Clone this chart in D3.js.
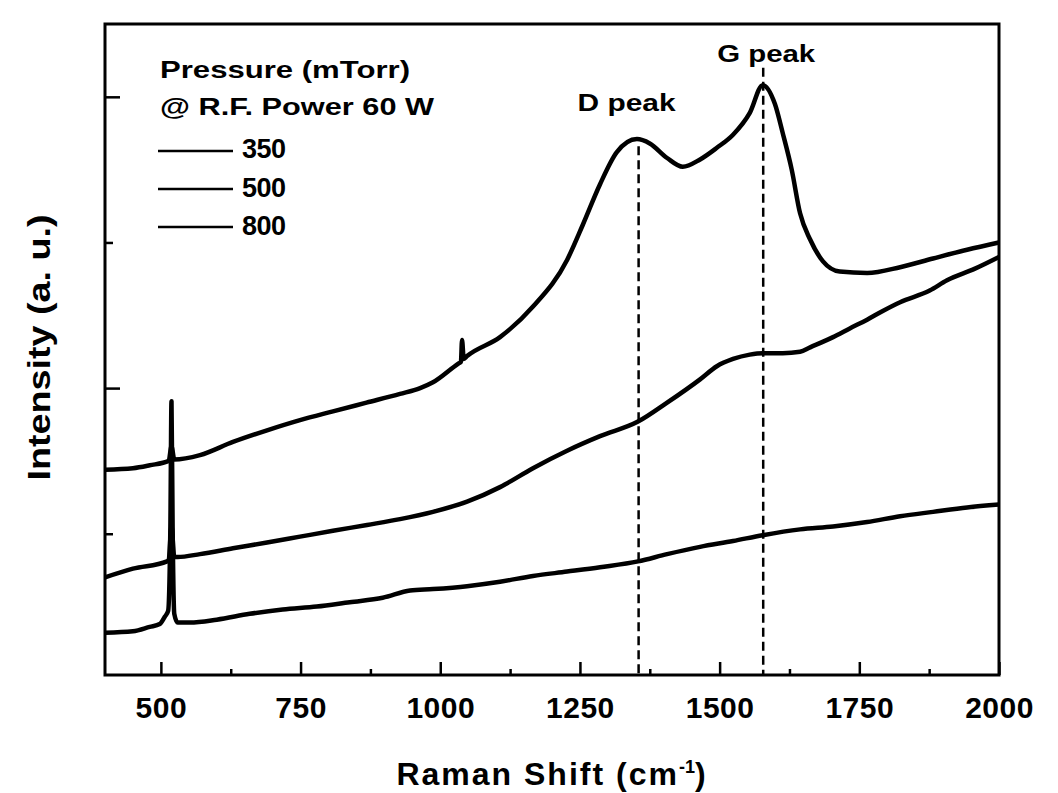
<!DOCTYPE html>
<html>
<head>
<meta charset="utf-8">
<script src="https://cdnjs.cloudflare.com/ajax/libs/d3/7.8.5/d3.min.js"></script>
<style>
body { margin: 0; background: #fff; }
svg text { font-family: "Liberation Sans", Arial, sans-serif; font-weight: bold; fill: #000; }
</style>
</head>
<body>
<svg id="chart" width="1058" height="793"></svg>
<script>
/* spectra: Raman shift (cm-1) / intensity (a.u.) */
var topShift = [400, 450, 480, 514, 519, 524, 570, 629, 690, 749, 808, 868, 928, 964, 987, 1033, 1037, 1039, 1042, 1048,
                1107, 1166, 1227, 1255, 1286, 1316, 1352, 1375, 1406, 1434, 1465, 1495, 1524, 1554, 1577, 1599,
                1613, 1629, 1644, 1662, 1685, 1715, 1764, 1823, 1882, 1943, 2000];
var topInt   = [1.44, 1.45, 1.47, 1.50, 1.60, 1.51, 1.54, 1.63, 1.71, 1.78, 1.84, 1.90, 1.96, 2.00, 2.04, 2.17, 2.18, 2.33, 2.20, 2.22,
                2.35, 2.56, 2.88, 3.12, 3.40, 3.62, 3.71, 3.68, 3.58, 3.52, 3.57, 3.65, 3.74, 3.89, 4.08, 3.95,
                3.75, 3.50, 3.20, 3.02, 2.87, 2.80, 2.79, 2.83, 2.89, 2.95, 3.00];

var midShift = [400, 450, 511, 514, 519, 524, 530, 570, 629, 690, 749, 808, 869, 928, 987, 1048, 1107, 1166, 1227, 1286,
                1354, 1406, 1465, 1495, 1524, 1554, 1577, 1613, 1644, 1662, 1703, 1733, 1764, 1792, 1823, 1876, 1907, 1957, 2000];
var midInt   = [0.70, 0.76, 0.81, 0.82, 1.05, 0.84, 0.84, 0.86, 0.90, 0.94, 0.98, 1.02, 1.06, 1.10, 1.15, 1.22, 1.32, 1.45, 1.57, 1.67,
                1.77, 1.90, 2.06, 2.15, 2.20, 2.23, 2.24, 2.24, 2.25, 2.28, 2.35, 2.41, 2.47, 2.53, 2.59, 2.67, 2.74, 2.82, 2.90];

var lowShift = [400, 450, 480, 498, 507, 513, 517, 519, 521, 524, 530, 552, 600, 659, 718, 779, 838, 897, 946, 987,
                1048, 1107, 1166, 1227, 1286, 1354, 1406, 1465, 1524, 1577, 1644, 1703, 1764, 1823, 1882, 1943, 2000];
var lowInt   = [0.32, 0.33, 0.36, 0.38, 0.43, 0.47, 1.05, 1.91, 1.05, 0.45, 0.39, 0.39, 0.41, 0.45, 0.48, 0.50, 0.53, 0.56, 0.61, 0.62,
                0.64, 0.67, 0.71, 0.74, 0.77, 0.81, 0.86, 0.91, 0.95, 0.99, 1.03, 1.05, 1.08, 1.12, 1.15, 1.18, 1.20];

var peakNames = ["D peak", "G peak"];
var peakShift = [1355, 1578];
var peakStart = [3.66, 4.20];

var legendTitle = ["Pressure (mTorr)", "@ R.F. Power 60 W"];
var pressures = ["350", "500", "800"];

var xMajor = [500, 750, 1000, 1250, 1500, 1750, 2000];
var xMinor = [625, 875, 1125, 1375, 1625, 1875];
var yMajor = [2, 4];
var yMinor = [1, 3];

var svg = d3.select("#chart");
var plotL = 105, plotR = 999, plotT = 24, plotB = 675;

var x = d3.scaleLinear().domain([400, 2000]).range([plotL, plotR]);
var y = d3.scaleLinear().domain([0.03, 4.5]).range([plotB, plotT]);

/* ticks (inward) */
function tickStyle(g) {
    g.select(".domain").remove();
    g.selectAll(".tick line").attr("stroke", "#000").attr("stroke-width", 2.5);
    g.selectAll(".tick text").attr("font-family", null).attr("font-size", null);
}

svg.append("g")
   .attr("transform", `translate(0,${plotB})`)
   .call(d3.axisBottom(x).tickValues(xMajor).tickSize(-13).tickPadding(22).tickFormat(d3.format("d")))
   .call(tickStyle)
   .selectAll("text")
   .style("font-size", "30px")
   .style("letter-spacing", "0.5px");

svg.append("g")
   .attr("transform", `translate(0,${plotB})`)
   .call(d3.axisBottom(x).tickValues(xMinor).tickSize(-6).tickFormat(""))
   .call(tickStyle);

svg.append("g")
   .attr("transform", `translate(${plotL},0)`)
   .call(d3.axisLeft(y).tickValues(yMajor).tickSize(-15).tickFormat(""))
   .call(tickStyle);

svg.append("g")
   .attr("transform", `translate(${plotL},0)`)
   .call(d3.axisLeft(y).tickValues(yMinor).tickSize(-8).tickFormat(""))
   .call(tickStyle);

/* frame */
svg.append("rect")
   .attr("x", plotL).attr("y", plotT)
   .attr("width", plotR - plotL).attr("height", plotB - plotT)
   .attr("fill", "none").attr("stroke", "#000").attr("stroke-width", 3);

/* spectra */
var line = d3.line()
    .x(d => x(d[0]))
    .y(d => y(d[1]))
    .curve(d3.curveMonotoneX);

[[topShift, topInt], [midShift, midInt], [lowShift, lowInt]].forEach(function(s){
    svg.append("path")
       .datum(d3.zip(s[0], s[1]))
       .attr("d", line)
       .attr("fill", "none")
       .attr("stroke", "#000")
       .attr("stroke-width", 4.5)
       .attr("stroke-linejoin", "round");
});

/* D and G peak markers */
var labelDx = [-12, 3];
var labelY = [111, 62];
peakShift.forEach(function(p, i){
    svg.append("line")
       .attr("x1", x(p)).attr("x2", x(p))
       .attr("y1", y(peakStart[i])).attr("y2", plotB)
       .attr("stroke", "#000")
       .attr("stroke-width", 2.5)
       .attr("stroke-dasharray", "9,5");
    svg.append("text")
       .attr("x", x(p) + labelDx[i])
       .attr("y", labelY[i])
       .attr("text-anchor", "middle")
       .attr("textLength", 98)
       .attr("lengthAdjust", "spacingAndGlyphs")
       .style("font-size", "24px")
       .text(peakNames[i]);
});

/* legend */
var legend = svg.append("g");
legend.selectAll(".title")
      .data(legendTitle)
      .join("text")
      .attr("class", "title")
      .attr("x", 160)
      .attr("y", (d, i) => 78 + i * 37)
      .attr("textLength", (d, i) => i == 0 ? 250 : 274)
      .attr("lengthAdjust", "spacingAndGlyphs")
      .style("font-size", "23px")
      .text(d => d);

legend.selectAll("line")
      .data(pressures)
      .join("line")
      .attr("x1", 158).attr("x2", 233)
      .attr("y1", (d, i) => 151 + i * 38)
      .attr("y2", (d, i) => 151 + i * 38)
      .attr("stroke", "#000")
      .attr("stroke-width", 2.5);

legend.selectAll(".num")
      .data(pressures)
      .join("text")
      .attr("class", "num")
      .attr("x", 242)
      .attr("y", (d, i) => 158 + i * 38.5)
      .style("font-size", "27px")
      .style("letter-spacing", "-0.5px")
      .text(d => d);

/* axis titles */
var xt = svg.append("text")
    .attr("x", (plotL + plotR) / 2)
    .attr("y", 785)
    .attr("text-anchor", "middle")
    .style("font-size", "32px")
    .style("letter-spacing", "2px");
xt.append("tspan").text("Raman Shift (cm");
xt.append("tspan").attr("dy", -12).style("font-size", "18px").style("letter-spacing", "0px").text("-1");
xt.append("tspan").attr("dy", 12).text(")");

svg.append("text")
   .attr("transform", `translate(50,${(plotT + plotB) / 2 - 2}) rotate(-90)`)
   .attr("text-anchor", "middle")
   .attr("textLength", 266)
   .attr("lengthAdjust", "spacingAndGlyphs")
   .style("font-size", "32px")
   .text("Intensity (a. u.)");
</script>
</body>
</html>
